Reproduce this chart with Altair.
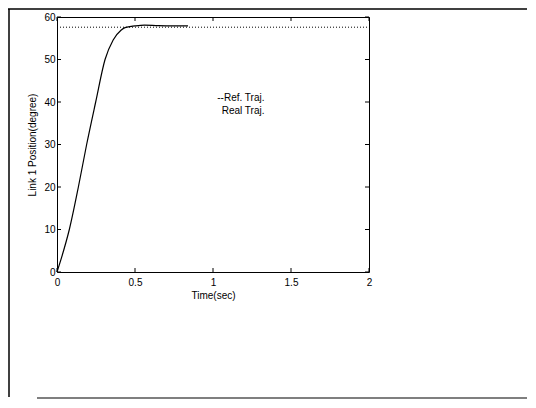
import altair as alt
import pandas as pd

# Data
time_real = [0.0, 0.03, 0.079, 0.137, 0.19, 0.248, 0.308, 0.36, 0.41, 0.436, 0.5, 0.56, 0.65, 0.75, 0.84]
pos_real = [0.0, 3.5, 10.0, 20.0, 30.0, 40.0, 50.0, 54.6, 56.9, 57.5, 57.9, 58.1, 57.95, 57.9, 57.9]
time_ref = [0.0, 2.0]
pos_ref = [57.6, 57.6]
x_ticks = [0, 0.5, 1, 1.5, 2]
y_ticks = [0, 10, 20, 30, 40, 50, 60]
legend_text = ["--Ref. Traj.", "Real Traj."]
legend_x = [1.33, 1.33]
legend_y = [41.0, 38.0]

W, H = 312, 255
FONT = "Liberation Sans"

real_df = pd.DataFrame({"t": time_real, "p": pos_real})
ref_df = pd.DataFrame({"t": time_ref, "p": pos_ref})
xt_df = pd.DataFrame({"t": x_ticks})
yt_df = pd.DataFrame({"p": y_ticks})
leg_df = pd.DataFrame({"label": legend_text, "t": legend_x, "p": legend_y})

xscale = alt.Scale(domain=[0, 2], nice=False, zero=False)
yscale = alt.Scale(domain=[0, 60], nice=False, zero=False)

xaxis = alt.Axis(values=x_ticks, format="~g", ticks=False, grid=False, domain=False,
                 labelFont=FONT, labelFontSize=10, labelColor="black", labelPadding=5,
                 title="Time(sec)", titleFont=FONT, titleFontSize=10, titleFontWeight="normal",
                 titleColor="black", titlePadding=3, labelFlush=False)
yaxis = alt.Axis(values=y_ticks, format="d", ticks=False, grid=False, domain=False,
                 labelFont=FONT, labelFontSize=10, labelColor="black", labelPadding=2,
                 title="Link 1 Position(degree)", titleFont=FONT, titleFontSize=10,
                 titleFontWeight="normal", titleColor="black", titlePadding=6, labelFlush=False)

real = alt.Chart(real_df).mark_line(color="black", strokeWidth=1.2, interpolate="monotone").encode(
    x=alt.X("t:Q", scale=xscale, axis=xaxis),
    y=alt.Y("p:Q", scale=yscale, axis=yaxis),
)
ref = alt.Chart(ref_df).mark_line(color="black", strokeWidth=1, strokeDash=[1, 2]).encode(
    x=alt.X("t:Q", scale=xscale),
    y=alt.Y("p:Q", scale=yscale),
)

tick_len = 4
xt_bottom = alt.Chart(xt_df).mark_rule(color="black").encode(
    x=alt.X("t:Q", scale=xscale), y=alt.value(H), y2=alt.value(H - tick_len))
xt_top = alt.Chart(xt_df).mark_rule(color="black").encode(
    x=alt.X("t:Q", scale=xscale), y=alt.value(0), y2=alt.value(tick_len))
yt_left = alt.Chart(yt_df).mark_rule(color="black").encode(
    y=alt.Y("p:Q", scale=yscale), x=alt.value(0), x2=alt.value(tick_len))
yt_right = alt.Chart(yt_df).mark_rule(color="black").encode(
    y=alt.Y("p:Q", scale=yscale), x=alt.value(W), x2=alt.value(W - tick_len))

legend = alt.Chart(leg_df).mark_text(align="right", baseline="middle", font=FONT,
                                      fontSize=10, color="black").encode(
    x=alt.X("t:Q", scale=xscale), y=alt.Y("p:Q", scale=yscale), text="label:N")

# outer figure frame (decoration)
frame_left = alt.Chart(xt_df.head(1)).mark_rule(color="black", strokeWidth=1.5).encode(
    x=alt.value(-48), y=alt.value(-8), y2=alt.value(380))
frame_top = alt.Chart(xt_df.head(1)).mark_rule(color="black", strokeWidth=1.5).encode(
    x=alt.value(-49), x2=alt.value(470), y=alt.value(-8))
frame_bottom = alt.Chart(xt_df.head(1)).mark_rule(color="#555555", strokeWidth=1.5).encode(
    x=alt.value(-20), x2=alt.value(470), y=alt.value(381))

chart = alt.layer(
    frame_left, frame_top, frame_bottom,
    ref, real, xt_bottom, xt_top, yt_left, yt_right, legend
).properties(
    width=W, height=H,
    autosize=alt.AutoSizeParams(type="none"),
    padding={"left": 49, "top": 9, "right": 158, "bottom": 127},
).configure_view(
    stroke="black", strokeWidth=1
)

chart.save("out.html", embed_options={"renderer": "svg", "actions": False})
